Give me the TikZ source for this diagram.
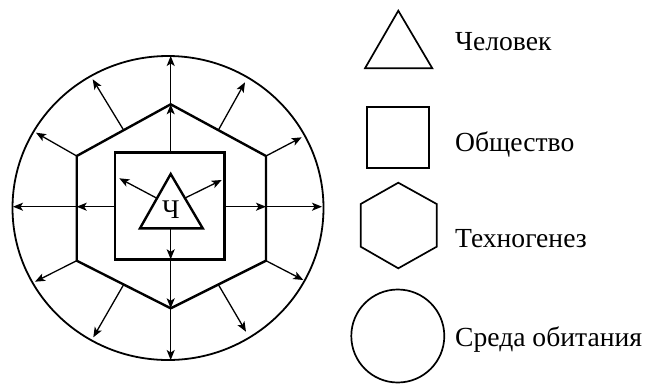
\documentclass[tikz,border=0pt]{standalone}
\usepackage{fontspec}
\setmainfont{Liberation Serif}
\usetikzlibrary{arrows.meta}
\begin{document}
\begin{tikzpicture}[x=1pt,y=-1pt,
  ln/.style={line width=1.3pt,-{Stealth[length=10pt,width=8pt,inset=2.5pt]}},
  shp/.style={line width=2.4pt,line join=miter},
  thin shp/.style={line width=1.7pt,line join=miter},
  lab/.style={anchor=base west,inner sep=0pt,font=\fontsize{27.6}{32}\selectfont}]
\useasboundingbox (0,0) rectangle (646,384);
% outer ellipse (environment)
\draw[line width=1.8pt] (168,208) ellipse [x radius=155.5pt, y radius=152pt];
% hexagon
\coordinate (hT) at (170.7,104.3);
\coordinate (hUR) at (266,156);
\coordinate (hLR) at (266,260.7);
\coordinate (hB) at (170.7,308.3);
\coordinate (hLL) at (76.7,260.7);
\coordinate (hUL) at (76.7,156);
\draw[shp] (hT) -- (hUR) -- (hLR) -- (hB) -- (hLL) -- (hUL) -- cycle;
\coordinate (hL) at (76.7,206.7);
\coordinate (hR) at (266,206.7);
% square
\draw[shp] (115,152.3) rectangle (224.3,259.3);
\coordinate (sT) at (170.7,152.3);
\coordinate (sB) at (170.7,259.3);
\coordinate (sL) at (115,206.7);
\coordinate (sR) at (224.3,206.7);
% triangle
\coordinate (tA) at (170.7,174);
\coordinate (tL) at (140,228.3);
\coordinate (tR) at (202.7,228.3);
\draw[shp] (tA) -- (tR) -- (tL) -- cycle;
\node[inner sep=0pt,anchor=base,font=\fontsize{27}{30}\selectfont] (ch) at (170.8,218.3) {Ч};
\coordinate (tB) at (170.7,228.3);
\coordinate (tsL) at (157,198.3);
\coordinate (tsR) at (184.5,198.3);
% outer tips
\coordinate (cT) at (170.7,56);
\coordinate (cB) at (170.7,360);
\coordinate (cL) at (13,206.7);
\coordinate (cR) at (322,206.7);
% mid-edge points
\coordinate (mUL) at (123.7,130.2);
\coordinate (mUR) at (218.3,130.2);
\coordinate (mLL) at (123.7,284.5);
\coordinate (mLR) at (218.3,284.5);
% arrows
\draw[ln] (sT) -- (hT);
\draw[ln] (hT) -- (cT);
\draw[ln] (tB) -- (sB);
\draw[ln] (sB) -- (hB);
\draw[ln] (hB) -- (cB);
\draw[ln] (sL) -- (hL);
\draw[ln] (hL) -- (cL);
\draw[ln] (sR) -- (hR);
\draw[ln] (hR) -- (cR);
\coordinate (eTL) at (119.3,178.3);
\coordinate (eTR) at (221.7,180);
\draw[ln] (tsL) -- (eTL);
\draw[ln] (tsR) -- (eTR);
\coordinate (e1) at (92.7,79.3);
\coordinate (e2) at (245,82.3);
\coordinate (e3) at (36,132.7);
\coordinate (e4) at (301.7,137.3);
\coordinate (e5) at (35,281.7);
\coordinate (e6) at (303.3,280);
\coordinate (e7) at (93.3,337.3);
\coordinate (e8) at (246,331.7);
\draw[ln] (mUL) -- (e1);
\draw[ln] (mUR) -- (e2);
\draw[ln] (hUL) -- (e3);
\draw[ln] (hUR) -- (e4);
\draw[ln] (hLL) -- (e5);
\draw[ln] (hLR) -- (e6);
\draw[ln] (mLL) -- (e7);
\draw[ln] (mLR) -- (e8);
% legend
\draw[thin shp] (398.3,10.7) -- (432.3,68.3) -- (365,68.3) -- cycle;
\node[lab] (l1) at (455,50.7) {Человек};
\draw[thin shp] (367.3,106.7) rectangle (429.3,168.3);
\node[lab] (l2) at (455,151) {Общество};
\draw[thin shp] (398.3,182.7) -- (436.7,204) -- (436.7,246.7) -- (398.3,268.3) -- (360.7,246.7) -- (360.7,204) -- cycle;
\node[lab] (l3) at (455,247.3) {Техногенез};
\draw[thin shp] (397.8,336) circle [radius=46.5pt];
\node[lab] (l4) at (455,346.7) {Среда обитания};
\end{tikzpicture}
\end{document}
